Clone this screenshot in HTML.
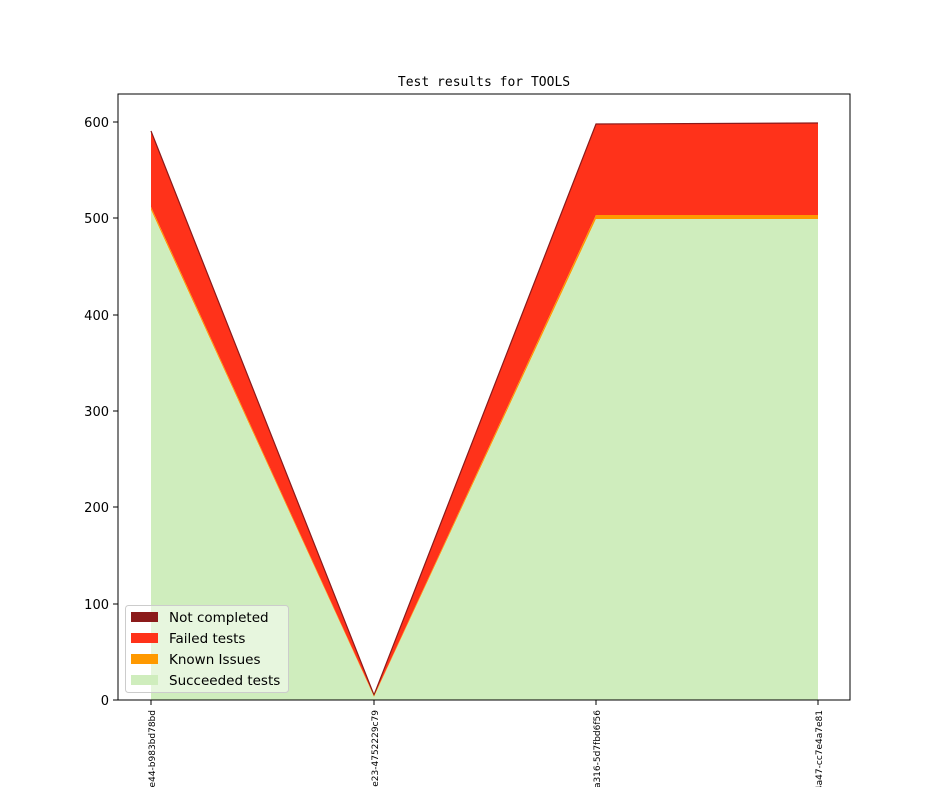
<!DOCTYPE html>
<html><head><meta charset="utf-8"><style>body{margin:0;background:#fff}svg{display:block}</style></head>
<body>
<svg width="944" height="787" xmlns="http://www.w3.org/2000/svg" font-family="DejaVu Sans, Liberation Sans, sans-serif">
<rect width="944" height="787" fill="#fff"/>
<text x="484" y="86" text-anchor="middle" font-family="DejaVu Sans Mono, Liberation Mono, monospace" font-size="13">Test results for TOOLS</text>
<polygon points="151,131 374,695 596,124 818,123 818,215 596,215 374,696 151,207" fill="#ff321a"/>
<polyline points="151,131 374,695 596,124 818,123" fill="none" stroke="#8b1a1a" stroke-width="1.2"/>
<polygon points="151,207 374,696 596,215 818,215 818,219 596,219 374,697 151,210" fill="#ff9900"/>
<polygon points="151,210 374,697 596,219 818,219 818,700 151,700" fill="#cfedbd"/>
<rect x="118" y="94" width="732" height="606" fill="none" stroke="#000" stroke-width="1"/>
<g font-size="13" text-anchor="end">
<line x1="113" y1="700" x2="118" y2="700" stroke="#000"/><text x="109" y="705">0</text>
<line x1="113" y1="604" x2="118" y2="604" stroke="#000"/><text x="109" y="609">100</text>
<line x1="113" y1="507" x2="118" y2="507" stroke="#000"/><text x="109" y="512">200</text>
<line x1="113" y1="411" x2="118" y2="411" stroke="#000"/><text x="109" y="416">300</text>
<line x1="113" y1="315" x2="118" y2="315" stroke="#000"/><text x="109" y="320">400</text>
<line x1="113" y1="218" x2="118" y2="218" stroke="#000"/><text x="109" y="223">500</text>
<line x1="113" y1="122" x2="118" y2="122" stroke="#000"/><text x="109" y="127">600</text>
</g>
<g font-size="9" text-anchor="end">
<line x1="151" y1="700" x2="151" y2="705" stroke="#000"/>
<text transform="translate(155,710) rotate(-90)">0b6d-4e44-b983bd78bd</text>
<line x1="374" y1="700" x2="374" y2="705" stroke="#000"/>
<text transform="translate(378,710) rotate(-90)">5e0c-4e23-4752229c79</text>
<line x1="596" y1="700" x2="596" y2="705" stroke="#000"/>
<text transform="translate(600,710) rotate(-90)">4a1c-a316-5d7fbd6f56</text>
<line x1="818" y1="700" x2="818" y2="705" stroke="#000"/>
<text transform="translate(822,710) rotate(-90)">1c2d-4a47-cc7e4a7e81</text>
</g>
<rect x="125.5" y="605.5" width="163" height="87" rx="3" fill="#fff" fill-opacity="0.5" stroke="#ccc"/>
<g font-size="13.5">
<rect x="131" y="612" width="27" height="10" fill="#8b1a1a"/><text x="169" y="622">Not completed</text>
<rect x="131" y="633" width="27" height="10" fill="#ff321a"/><text x="169" y="643">Failed tests</text>
<rect x="131" y="654" width="27" height="10" fill="#ff9900"/><text x="169" y="664">Known Issues</text>
<rect x="131" y="675" width="27" height="10" fill="#cfedbd"/><text x="169" y="685">Succeeded tests</text>
</g>
</svg>
</body></html>
